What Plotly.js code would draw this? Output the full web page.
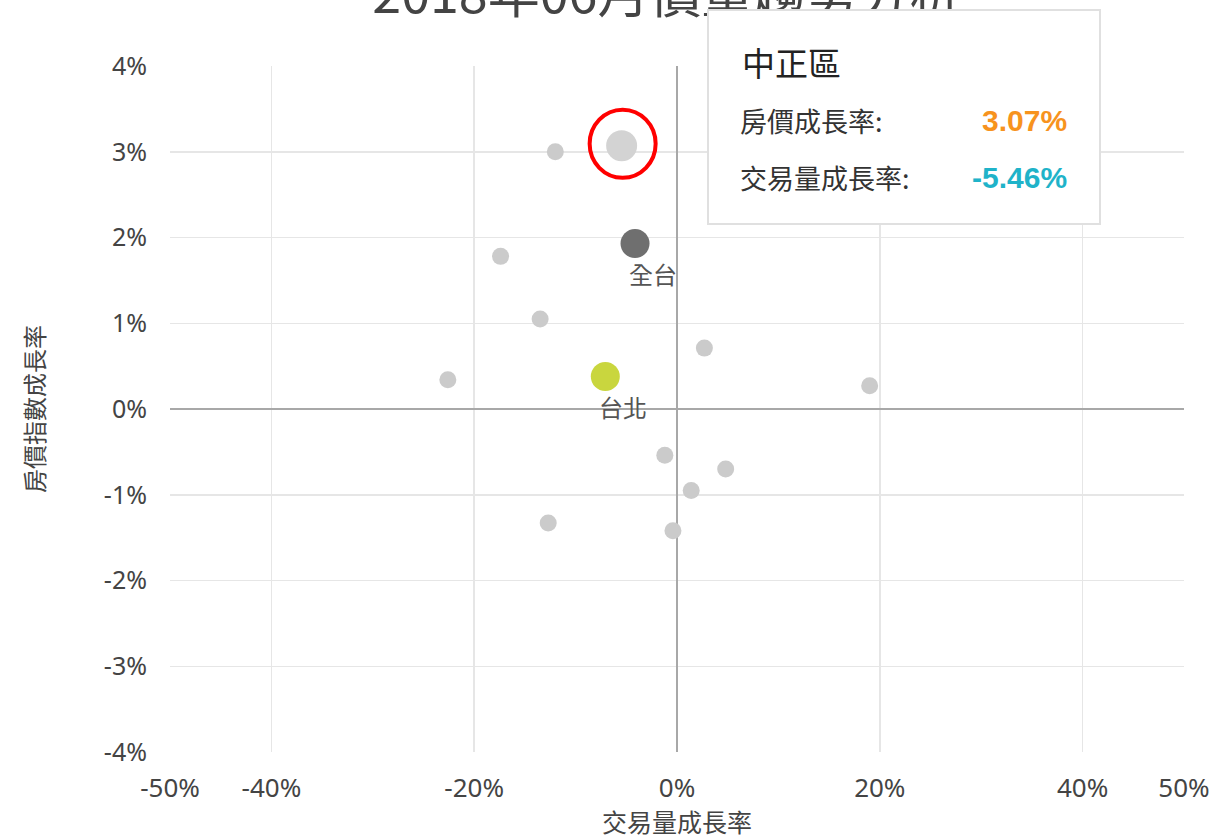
<!DOCTYPE html>
<html>
<head>
<meta charset="utf-8">
<script src="https://cdn.plot.ly/plotly-3.0.1.min.js"></script>
<style>
  html, body { margin: 0; padding: 0; background: #fff; }
  #chart { width: 1224px; height: 839px; }
</style>
</head>
<body>
<div id="chart"></div>
<script>
// ---- data ----
var chartTitle = '2018年06月價量趨勢分析';
var xAxisTitle = '交易量成長率';
var yAxisTitle = '房價指數成長率';

// other districts (volume growth %, price growth %)
var otherX = [-12.0, -17.4, -13.5, 2.7, -22.6, 19.0, -1.2, 4.8, 1.4, -12.7, -0.4];
var otherY = [3.00, 1.78, 1.05, 0.71, 0.34, 0.27, -0.54, -0.70, -0.95, -1.33, -1.42];

// highlighted district
var hlName = '中正區';
var hlX = [-5.46];
var hlY = [3.07];

// whole Taiwan
var allName = '全台';
var allX = [-4.14];
var allY = [1.93];

// Taipei
var tpName = '台北';
var tpX = [-7.07];
var tpY = [0.38];

var tipPriceLabel = '房價成長率:';
var tipVolLabel = '交易量成長率:';

var xTickVals = [-50, -40, -20, 0, 20, 40, 50];
var xTickText = ['-50%', '-40%', '-20%', '0%', '20%', '40%', '50%'];
var xGridVals = [-40, -20, 20, 40];
var yTickVals = [-4, -3, -2, -1, 0, 1, 2, 3, 4];
var yTickText = ['-4%', '-3%', '-2%', '-1%', '0%', '1%', '2%', '3%', '4%'];

// ---- layout helpers ----
var M = {l: 170, r: 40, t: 66, b: 87};
var W = 1224, H = 839;
var PW = W - M.l - M.r, PH = H - M.t - M.b;
function px(x) { return (x - M.l) / PW; }
function py(y) { return (H - M.b - y) / PH; }

var FONT = 'Noto Sans, Noto Sans CJK TC, sans-serif';
var CJK = 'Noto Sans CJK TC, Noto Sans, sans-serif';

var traces = [
  {x: otherX, y: otherY, type: 'scatter', mode: 'markers',
   marker: {size: 17, color: '#cbcbcb'}, hoverinfo: 'skip', showlegend: false},
  {x: hlX, y: hlY, type: 'scatter', mode: 'markers', name: hlName,
   marker: {size: 31, color: '#d3d3d3'}, hoverinfo: 'skip', showlegend: false},
  {x: allX, y: allY, type: 'scatter', mode: 'markers', name: allName,
   marker: {size: 29, color: '#6f6f6f'}, hoverinfo: 'skip', showlegend: false},
  {x: tpX, y: tpY, type: 'scatter', mode: 'markers', name: tpName,
   marker: {size: 29, color: '#c9d63e'}, hoverinfo: 'skip', showlegend: false}
];

function fmt(v) { return v.toFixed(2) + '%'; }

var annotations = [
  // point labels
  {x: allX[0], y: allY[0], xref: 'x', yref: 'y', text: allName, showarrow: false,
   xanchor: 'center', yanchor: 'middle', xshift: 18, yshift: -30,
   font: {family: CJK, size: 24, color: '#555'}},
  {x: tpX[0], y: tpY[0], xref: 'x', yref: 'y', text: tpName, showarrow: false,
   xanchor: 'center', yanchor: 'middle', xshift: 18, yshift: -30,
   font: {family: CJK, size: 24, color: '#555'}},
  // tooltip box
  {x: px(707), y: py(9), xref: 'paper', yref: 'paper', text: ' ', showarrow: false,
   xanchor: 'left', yanchor: 'top', width: 390, height: 212,
   bgcolor: '#ffffff', bordercolor: '#e0e0e0', borderwidth: 2, borderpad: 0},
  {x: px(740), y: py(62), xref: 'paper', yref: 'paper', text: hlName, showarrow: false,
   xanchor: 'left', yanchor: 'middle', font: {family: CJK, size: 33, color: '#222'}},
  {x: px(738), y: py(120), xref: 'paper', yref: 'paper', text: tipPriceLabel, showarrow: false,
   xanchor: 'left', yanchor: 'middle', font: {family: CJK, size: 27, color: '#333'}},
  {x: px(1069), y: py(120), xref: 'paper', yref: 'paper', text: '<b>' + fmt(hlY[0]) + '</b>', showarrow: false,
   xanchor: 'right', yanchor: 'middle', font: {family: 'Liberation Sans, Arial, sans-serif', size: 30, color: '#f7931e'}},
  {x: px(738), y: py(178), xref: 'paper', yref: 'paper', text: tipVolLabel, showarrow: false,
   xanchor: 'left', yanchor: 'middle', font: {family: CJK, size: 27, color: '#333'}},
  {x: px(1069), y: py(178), xref: 'paper', yref: 'paper', text: '<b>' + fmt(hlX[0]) + '</b>', showarrow: false,
   xanchor: 'right', yanchor: 'middle', font: {family: 'Liberation Sans, Arial, sans-serif', size: 30, color: '#1fb3c9'}}
];

var shapes = [
  {type: 'circle', xref: 'x', yref: 'y', xsizemode: 'pixel', ysizemode: 'pixel',
   xanchor: hlX[0], yanchor: hlY[0], x0: -32, x1: 34, y0: -32, y1: 36,
   line: {color: '#ff0000', width: 4}, layer: 'above'}
];

var layout = {
  width: W, height: H,
  margin: M,
  paper_bgcolor: '#ffffff', plot_bgcolor: '#ffffff',
  font: {family: FONT, color: '#444'},
  title: {text: chartTitle, xref: 'paper', x: 0.49, xanchor: 'center',
          yref: 'container', y: 1 - 13 / H, yanchor: 'bottom',
          font: {family: CJK, size: 52, color: '#444'}},
  xaxis: {
    range: [-50, 50], tickvals: xTickVals, ticktext: xTickText,
    showgrid: false, zeroline: true, zerolinecolor: '#a8a8a8', zerolinewidth: 2,
    minor: {tickvals: xGridVals, showgrid: true, gridcolor: '#e6e6e6', gridwidth: 1.5},
    showline: false, ticks: '', ticklabelstandoff: 18,
    tickfont: {family: FONT, size: 26, color: '#444'},
    title: {text: xAxisTitle, standoff: 8, font: {family: CJK, size: 25, color: '#444'}},
    fixedrange: true
  },
  yaxis: {
    range: [-4, 4], tickvals: yTickVals, ticktext: yTickText,
    showgrid: true, gridcolor: '#e6e6e6', gridwidth: 1.5,
    zeroline: true, zerolinecolor: '#a8a8a8', zerolinewidth: 2,
    showline: false, ticks: '', ticklabelstandoff: 22,
    tickfont: {family: FONT, size: 25, color: '#444'},
    title: {text: yAxisTitle, standoff: 52, font: {family: CJK, size: 24, color: '#444'}},
    fixedrange: true
  },
  annotations: annotations,
  shapes: shapes,
  hovermode: false,
  showlegend: false
};

Plotly.newPlot('chart', traces, layout, {displayModeBar: false, staticPlot: true});
</script>
</body>
</html>
